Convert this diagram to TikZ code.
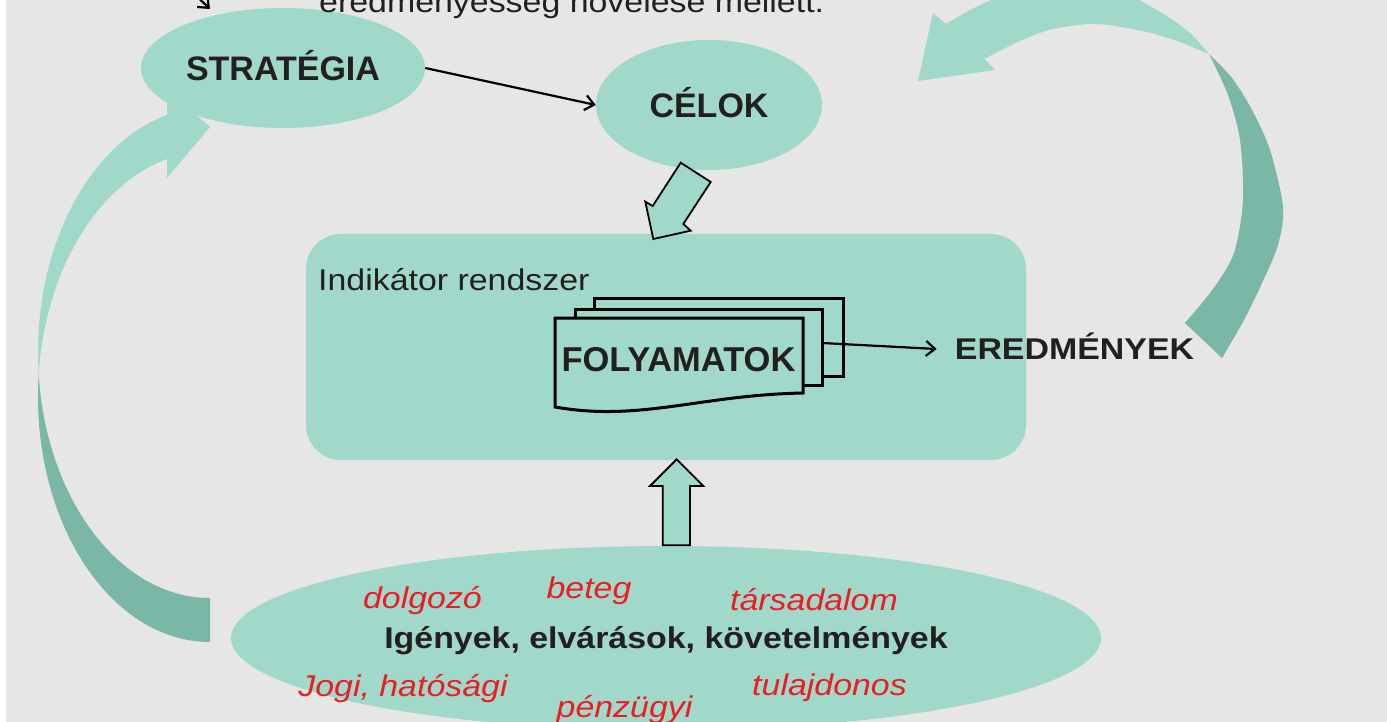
\documentclass[tikz,border=0pt]{standalone}
\usepackage{fontspec}
\setmainfont{Liberation Sans}
\newfontfamily\wide{Liberation Sans}[FakeStretch=1.13]
\usetikzlibrary{shapes.geometric,arrows.meta}
\definecolor{bg}{RGB}{230,230,228}
\definecolor{tealL}{RGB}{160,217,202}
\definecolor{tealD}{RGB}{123,183,167}
\definecolor{ink}{RGB}{35,31,32}
\definecolor{redt}{RGB}{237,28,36}
\tikzset{
 bub/.style={ellipse, fill=tealL, inner sep=0pt, text=ink, font=\fontsize{34}{37}\selectfont\bfseries, text height=24.3pt, text depth=0pt},
 arr/.style={draw=black, line width=2.2pt, -{Straight Barb[length=9pt,width=15pt,line width=2.2pt]}},
 blk/.style={fill=tealL, draw=black, line width=1.8pt, line join=miter},
 docpage/.style={fill=tealL, draw=black, line width=3pt},
 lbl/.style={text=ink, font=\wide\fontsize{30}{34}\selectfont\bfseries, inner sep=0pt, text height=21.5pt, text depth=0pt},
 plain/.style={text=ink, font=\wide\fontsize{30}{34}\selectfont, inner sep=0pt, anchor=base west},
 who/.style={text=redt, font=\wide\fontsize{30}{34}\selectfont\itshape, inner sep=0pt, anchor=base},
}
\begin{document}
\begin{tikzpicture}[x=1pt,y=-1pt]
\useasboundingbox (0,0) rectangle (1387,722);
\clip (0,0) rectangle (1387,722);
\fill[white] (0,0) rectangle (1387,722);
\fill[bg] (6,0) rectangle (1387,722);

% left curved arrow (light front band, dark back band, head)
\begin{scope}
 \clip (0,0) rectangle (167,374.6);
 \fill[tealL, even odd rule] (210,352.6) ellipse [x radius=172pt, y radius=245.4pt]
                             (210,396.6) ellipse [x radius=172pt, y radius=245.4pt];
\end{scope}
\begin{scope}
 \clip (0,374.6) rectangle (210,722);
 \fill[tealD, even odd rule] (210,352.6) ellipse [x radius=172pt, y radius=245.4pt]
                             (210,396.6) ellipse [x radius=172pt, y radius=245.4pt];
\end{scope}
\fill[tealL] (167,90) -- (210,127) -- (167,178) -- cycle;

% right curved arrow
\fill[tealD] plot[smooth] coordinates {(1209,54) (1232,78) (1252,110) (1270,150) (1283,207) (1278,245) (1262,283) (1244,320) (1222,358)}
   -- plot[smooth] coordinates {(1185,323) (1213,289) (1234,253) (1243,200) (1240,140) (1228,95) (1209,54)} -- cycle;
\fill[tealL] plot[smooth] coordinates {(946,24) (972,9) (1000,-3) (1040,-12) (1090,-14) (1130,-4) (1165,15) (1190,33) (1209,54)}
   -- plot[smooth] coordinates {(1180,42) (1147,32) (1097,24) (1053,29) (1020,41) (984,59)}
   -- (995,70) -- (918,81) -- (933,13) -- cycle;

% ellipses
\node[bub, minimum width=284pt, minimum height=120pt] (strat) at (283,68) {STRATÉGIA};
\node[bub, minimum width=226pt, minimum height=130pt] (celok) at (709,105) {CÉLOK};
\draw[arr] (strat.east) -- (celok.west);

% indicator box
\node[fill=tealL, rounded corners=35pt, minimum width=720pt, minimum height=226pt, inner sep=0pt] (indik) at (666,347) {};
\node[plain] (indtxt) at (318,290) {Indikátor rendszer};

% block arrow from CÉLOK down into the box
\draw[blk] (680.7,162.7) -- (710.7,182) -- (683.3,224) -- (690.7,230.7) -- (653.3,239) -- (645.3,201.7) -- (652.7,206) -- cycle;

% stacked documents
\draw[docpage] (594,298) rectangle (843,376);
\draw[docpage] (575,309) rectangle (822,385);
\draw[docpage] (555,318) -- (803,318) -- (803,393) .. controls (700,395) and (640,422) .. (555,407) -- cycle;
\node[text=ink, font=\fontsize{34.5}{38}\selectfont\bfseries, inner sep=0pt, text height=24.5pt, text depth=0pt] (folytxt) at (678.5,359) {FOLYAMATOK};
\coordinate (midR) at (822,343);

\node[lbl, inner xsep=18pt] (ered) at (1074.5,349) {EREDMÉNYEK};
\draw[arr] (midR) -- (ered.west);

% bottom ellipse
\node[ellipse, fill=tealL, minimum width=870pt, minimum height=184pt, lbl] (igeny) at (666,638) {Igények, elvárások, követelmények};

% up block arrow
\draw[blk] (676.7,459.3) -- (703.3,486) -- (690,486) -- (690,545.3) -- (662.7,545.3) -- (662.7,486) -- (650,486) -- cycle;

% stakeholders
\node[who] (w1) at (422.5,608) {dolgozó};
\node[who] (w2) at (589,598) {beteg};
\node[who] (w3) at (814,610) {társadalom};
\node[who] (w4) at (403,696) {Jogi, hatósági};
\node[who] (w5) at (829.5,695) {tulajdonos};
\node[who] (w6) at (624.5,717) {pénzügyi};

% top (cut off) text and arrow
\node[plain] (toptxt) at (319,13) {eredményesség növelése mellett.};
\coordinate (tl1) at (186,-14);
\coordinate (tl2) at (210,9);
\draw[arr] (tl1) -- (tl2);
\end{tikzpicture}
\end{document}
